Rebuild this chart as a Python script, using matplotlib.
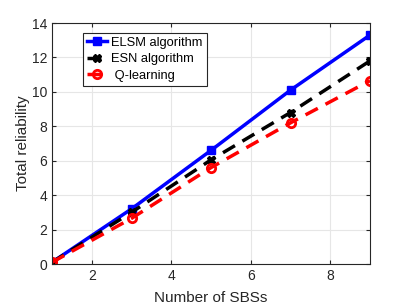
import matplotlib
matplotlib.use("Agg")
import matplotlib.pyplot as plt

plt.rcParams['font.family'] = ['Liberation Sans', 'DejaVu Sans']

x = [1, 3, 5, 7, 9]
elsm = [0.1, 3.2, 6.6, 10.1, 13.3]
esn = [0.1, 3.0, 6.05, 8.8, 11.8]
qlearn = [0.1, 2.65, 5.6, 8.2, 10.65]
labels = ['ELSM algorithm', 'ESN algorithm', ' Q-learning']

fig = plt.figure(figsize=(4.09, 3.07), dpi=100)
ax = fig.add_axes([52/409, 1-264/307, 318/409, 241/307])

ax.plot(x, elsm, color='#0000ff', lw=2.5, marker='s', ms=6, label=labels[0])
ax.plot(x, esn, color='black', lw=2.5, ls=(0, (4, 2.5)), marker='X', ms=6, label=labels[1])
ax.plot(x, qlearn, color='#ff0000', lw=2.5, ls=(0, (4, 2.5)), marker='o', ms=6,
        mfc='none', mew=2, label=labels[2])

ax.set_xlim(1, 9)
ax.set_ylim(0, 14)
ax.set_xticks([2, 4, 6, 8])
ax.set_yticks([0, 2, 4, 6, 8, 10, 12, 14])
ax.grid(True, color='#e6e6e6', lw=0.8)
ax.set_axisbelow(True)
ax.tick_params(direction='in', labelsize=10, colors='#262626', length=3, top=True, right=True)
for s in ax.spines.values():
    s.set_color('#262626')
    s.set_linewidth(0.8)
ax.set_xlabel('Number of SBSs', fontsize=11, color='#262626', labelpad=6)
ax.set_ylabel('Total reliability', fontsize=11, color='#262626', labelpad=1)

leg = ax.legend(loc='upper left', bbox_to_anchor=(0.097, 0.96), fontsize=9.3,
                fancybox=False, edgecolor='#262626', framealpha=1,
                handlelength=1.6, handletextpad=0.3, borderpad=0.3, labelspacing=0.35,
                borderaxespad=0)
leg.get_frame().set_linewidth(0.8)

fig.savefig('out.png', dpi=100)
